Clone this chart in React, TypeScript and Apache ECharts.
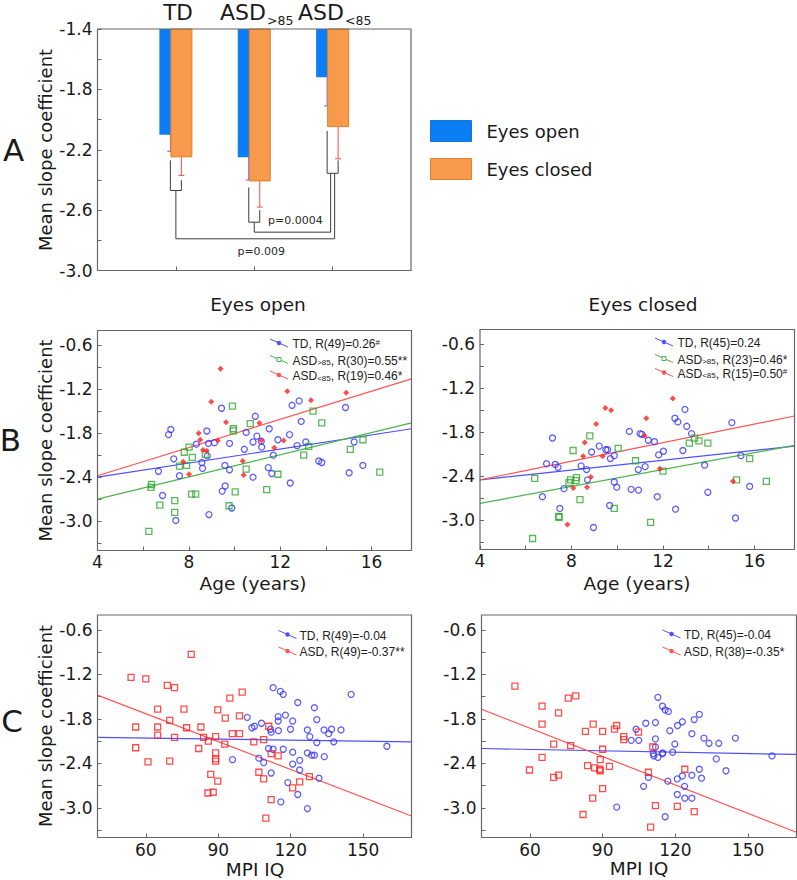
import React, { useEffect, useRef } from "react";
import * as echarts from "echarts";

const FONT = '"DejaVu Sans", Verdana, sans-serif';
const LEG_FONT = '"Liberation Sans", Arial, sans-serif';

// ---------- Panel A data ----------
const groups = ["TD", "ASD>85", "ASD<85"];
const openMean = [-2.1, -2.25, -1.72];
const openLow = [-2.21, -2.4, -1.91];
const openHigh = [-1.99, -2.095, -1.53];
const closedMean = [-2.25, -2.41, -2.05];
const closedLow = [-2.37, -2.58, -2.26];
const closedHigh = [-2.13, -2.24, -1.85];
const bracketLeftTop = [-2.27, -2.45, -2.075];
const bracketRightTop = [-2.4, -2.6, -2.27];
const bracketBottom = [-2.47, -2.68, -2.356];
const p009Level = -2.79;
const p0004Level = -2.746;
const aTicks = [-3.0, -2.8, -2.6, -2.4, -2.2, -2.0, -1.8, -1.6, -1.4];
const aLabels = [-3.0, -2.6, -2.2, -1.8, -1.4];

// ---------- Panels B / C axes ----------
const yTicks = [-3.3, -3.0, -2.7, -2.4, -2.1, -1.8, -1.5, -1.2, -0.9, -0.6];
const yLabels = [-3.0, -2.4, -1.8, -1.2, -0.6];
const ageTicks = [4, 6, 8, 10, 12, 14, 16];
const ageLabels = [4, 8, 12, 16];
const iqTicks = [60, 90, 120, 150];

// ---------- Panel B, eyes open ----------
const bOpenTD: number[][] = [
  [9.43, -1.46], [10.91, -1.57], [7.21, -1.75], [7.11, -1.82], [8.79, -1.77], [10.51, -1.79],
  [10.98, -1.84], [8.33, -1.95], [8.86, -1.94], [9.12, -1.93], [9.78, -1.94], [10.81, -1.92],
  [10.43, -2.02], [11.19, -1.99], [11.17, -1.91], [8.81, -2.11], [8.57, -2.2], [8.6, -2.28],
  [7.34, -2.15], [6.67, -2.32], [7.59, -2.38], [9.58, -2.24], [9.78, -2.3], [10.81, -2.4],
  [9.59, -2.52], [9.46, -2.59], [6.85, -2.65], [9.88, -2.82], [8.88, -2.91], [7.43, -2.99],
  [12.52, -1.42], [12.83, -1.36], [14.86, -1.45], [12.92, -1.64], [11.52, -1.74], [11.9, -1.89],
  [12.41, -1.82], [12.74, -1.97], [13.12, -1.92], [11.7, -2.1], [11.48, -2.27], [11.63, -2.35],
  [12.44, -2.48], [13.69, -2.18], [13.82, -2.2], [15.24, -1.92], [15.62, -2.24], [15.02, -2.34],
];
const bOpenHigh: number[][] = [
  [9.91, -1.43], [10.69, -1.67], [9.95, -1.74], [9.95, -1.77], [8.01, -1.99], [7.8, -2.06],
  [8.15, -2.13], [8.72, -2.09], [7.59, -2.25], [7.9, -2.24], [10.51, -2.29], [6.37, -2.5],
  [6.34, -2.54], [10.03, -2.6], [8.12, -2.63], [8.3, -2.63], [6.73, -2.78], [7.38, -2.72],
  [7.38, -2.88], [9.76, -2.79], [6.25, -3.14], [13.44, -1.5], [13.82, -1.66], [13.25, -1.98],
  [13.03, -2.1], [15.62, -1.89], [15.07, -2.02], [11.9, -2.36], [11.41, -2.57], [16.36, -2.33],
];
const bOpenLow: number[][] = [
  [9.39, -0.92], [8.98, -1.37], [9.63, -1.65], [8.43, -1.8], [8.5, -1.89], [9.27, -1.9],
  [8.62, -2.03], [8.78, -2.04], [7.75, -2.19], [8.01, -2.36], [10.36, -2.18], [10.4, -2.37],
  [11.09, -1.66], [11.17, -1.9], [11.74, -2.0], [12.15, -1.9], [12.31, -1.23], [13.35, -1.35],
  [14.89, -1.25],
];
const bOpenFitTD = [[4, -2.4], [17.75, -1.74]];
const bOpenFitHigh = [[4, -2.7], [17.75, -1.66]];
const bOpenFitLow = [[4, -2.38], [17.75, -1.06]];

// ---------- Panel B, eyes closed ----------
const bClosedTD: number[][] = [
  [10.53, -1.79], [11.0, -1.82], [11.08, -1.83], [11.36, -1.91], [7.17, -1.88], [9.21, -1.99],
  [9.5, -2.04], [9.58, -2.04], [8.88, -2.07], [9.87, -2.12], [9.7, -2.16], [6.91, -2.23],
  [7.29, -2.24], [7.41, -2.28], [8.42, -2.26], [8.66, -2.31], [10.92, -2.31], [11.22, -2.27],
  [8.7, -2.45], [9.87, -2.48], [9.98, -2.55], [7.67, -2.57], [10.61, -2.58], [10.93, -2.59],
  [6.73, -2.68], [7.49, -2.84], [9.67, -2.8], [8.96, -3.1], [12.96, -1.49], [12.52, -1.61],
  [12.65, -1.66], [13.04, -1.72], [13.25, -1.82], [15.01, -1.67], [11.63, -1.93], [12.87, -2.05],
  [12.02, -2.06], [11.81, -2.11], [13.82, -2.25], [15.41, -2.12], [11.75, -2.68], [13.96, -2.62],
  [15.79, -2.54], [12.55, -2.85], [15.17, -2.97],
];
const bClosedHigh: number[][] = [
  [8.8, -1.85], [8.07, -2.05], [10.04, -2.02], [10.8, -2.19], [6.39, -2.43], [7.96, -2.45],
  [8.22, -2.42], [8.19, -2.46], [7.89, -2.49], [8.37, -2.72], [7.45, -2.95], [7.45, -2.96],
  [9.87, -2.84], [6.3, -3.25], [11.46, -3.03], [13.15, -1.95], [13.38, -1.88], [13.57, -1.92],
  [13.96, -1.95], [15.79, -2.16], [12.0, -2.33], [15.22, -2.45], [16.52, -2.47],
];
const bClosedLow: number[][] = [
  [9.48, -1.47], [9.73, -1.5], [11.27, -1.61], [9.08, -1.69], [11.19, -1.85], [8.58, -1.94],
  [8.51, -2.13], [9.36, -2.13], [8.85, -2.41], [8.68, -2.55], [8.08, -2.56], [7.82, -3.06],
  [12.43, -1.34], [11.86, -2.3], [15.06, -2.47],
];
const bClosedFitTD = [[4, -2.45], [17.75, -1.99]];
const bClosedFitHigh = [[4, -2.77], [17.75, -1.98]];
const bClosedFitLow = [[4, -2.45], [17.75, -1.58]];

// ---------- Panel C, eyes open ----------
const cOpenTD: number[][] = [
  [112.7, -1.38], [115.7, -1.43], [116.9, -1.47], [145.0, -1.47], [122.9, -1.58], [129.8, -1.65],
  [102.0, -1.78], [114.8, -1.77], [117.8, -1.75], [130.8, -1.81], [107.9, -1.86], [114.8, -1.83],
  [120.8, -1.83], [105.0, -1.9], [103.9, -1.92], [111.6, -1.94], [111.9, -1.98], [114.9, -1.96],
  [119.9, -1.94], [126.9, -1.95], [127.9, -2.04], [133.8, -1.95], [136.9, -1.94], [135.7, -2.0],
  [140.8, -1.95], [130.8, -2.12], [137.8, -2.11], [159.8, -2.17], [110.8, -2.2], [112.7, -2.21],
  [116.9, -2.21], [120.8, -2.25], [126.9, -2.26], [128.7, -2.29], [129.8, -2.29], [133.9, -2.31],
  [95.9, -2.35], [106.8, -2.33], [108.8, -2.39], [123.7, -2.36], [120.8, -2.41], [123.7, -2.49],
  [111.9, -2.53], [131.7, -2.6], [118.8, -2.66], [122.9, -2.82], [115.9, -2.92], [126.9, -3.01],
];
const cOpenASD: number[][] = [
  [78.8, -0.93], [53.9, -1.24], [60.0, -1.26], [68.9, -1.35], [71.9, -1.38], [99.9, -1.44],
  [94.8, -1.52], [64.9, -1.67], [75.8, -1.67], [89.8, -1.68], [69.9, -1.82], [92.9, -1.79],
  [98.8, -1.76], [55.8, -1.91], [64.9, -1.91], [76.9, -1.92], [82.8, -1.91], [64.9, -2.02],
  [71.9, -2.05], [83.9, -2.05], [85.9, -2.1], [88.9, -2.04], [95.8, -2.0], [98.8, -2.0],
  [92.7, -2.14], [110.9, -1.9], [108.8, -2.08], [104.7, -2.11], [55.8, -2.19], [81.9, -2.2],
  [88.9, -2.26], [88.9, -2.34], [88.9, -2.37], [60.9, -2.38], [69.9, -2.37], [111.9, -2.27],
  [114.8, -2.3], [106.8, -2.52], [108.8, -2.61], [86.9, -2.55], [89.8, -2.64], [85.7, -2.8],
  [87.9, -2.79], [127.7, -2.58], [123.7, -2.65], [120.8, -2.73], [111.9, -2.89], [109.7, -3.14],
];
const cOpenFitTD = [[40, -2.05], [170, -2.11]];
const cOpenFitASD = [[40, -1.48], [170, -3.11]];

// ---------- Panel C, eyes closed ----------
const cClosedTD: number[][] = [
  [112.8, -1.51], [114.7, -1.63], [115.8, -1.68], [117.1, -1.7], [129.9, -1.74], [127.8, -1.81],
  [122.9, -1.84], [120.9, -1.89], [111.8, -1.85], [107.8, -1.86], [103.8, -1.94], [117.7, -1.96],
  [126.8, -2.0], [131.8, -2.06], [133.9, -2.13], [137.9, -2.13], [144.8, -2.06], [101.8, -2.09],
  [104.9, -2.09], [111.8, -2.07], [119.8, -2.14], [111.8, -2.18], [110.9, -2.27], [111.1, -2.3],
  [112.8, -2.32], [114.8, -2.26], [114.7, -2.27], [118.9, -2.25], [136.9, -2.34], [159.9, -2.3],
  [129.9, -2.48], [140.9, -2.5], [126.8, -2.56], [130.8, -2.6], [122.9, -2.57], [120.8, -2.61],
  [108.9, -2.59], [116.9, -2.64], [123.8, -2.71], [106.9, -2.71], [120.8, -2.82], [123.9, -2.87],
  [126.8, -2.87], [95.8, -2.99], [115.8, -3.12],
];
const cClosedASD: number[][] = [
  [53.8, -1.36], [65.0, -1.63], [71.8, -1.72], [75.8, -1.52], [78.9, -1.49], [65.0, -1.87],
  [82.9, -1.97], [86.1, -1.87], [90.0, -1.97], [94.9, -1.94], [95.8, -1.89], [98.7, -2.04],
  [98.7, -2.08], [104.8, -1.98], [69.8, -2.14], [76.8, -2.16], [90.0, -2.21], [110.7, -2.18],
  [65.0, -2.32], [89.0, -2.35], [83.8, -2.43], [86.7, -2.46], [88.8, -2.48], [89.0, -2.5],
  [92.8, -2.44], [59.8, -2.49], [69.8, -2.59], [71.8, -2.56], [108.9, -2.52], [123.9, -2.48],
  [90.0, -2.74], [85.9, -2.87], [81.9, -3.09], [111.8, -2.97], [120.8, -2.98], [127.8, -3.05],
  [109.8, -3.26],
];
const cClosedFitTD = [[40, -2.2], [170, -2.28]];
const cClosedFitASD = [[40, -1.67], [170, -3.33]];

// ---------- styling / layout ----------
const BAR_BLUE = "#0b7ef5";
const BAR_ORANGE = "#f79a4b";
const ORANGE_EDGE = "#e27f2c";
const ERR_BLUE = "#5a5aff";
const ERR_RED = "#ff4a4a";
const PT_BLUE = "#3434ff";
const PT_GREEN = "#2fa82f";
const PT_RED = "#ff1f1f";
const LN_BLUE = "#4f4fff";
const LN_GREEN = "#4cb34c";
const LN_RED = "#ff5252";
const FRAME = "#666666";
const TXT = "#1a1a1a";

const BAR_W = 22;
const HALF_OFF = BAR_W / 4;

const G = {
  a: { left: 97.5, top: 29, width: 313.5, height: 241.5 },
  bl: { left: 97.5, top: 330.5, width: 314, height: 220 },
  br: { left: 480, top: 329.5, width: 314.5, height: 220 },
  cl: { left: 97.5, top: 615, width: 314, height: 222.5 },
  cr: { left: 481.5, top: 615, width: 315, height: 222.5 },
};

const tickStyle = { show: true, inside: true, length: 4, lineStyle: { color: FRAME, width: 1 } };
const labelStyle = { fontSize: 17, fontFamily: FONT, color: TXT };

function yAxisBC(gridIndex: number) {
  return {
    type: "value", gridIndex, min: -3.4, max: -0.4,
    axisLine: { show: false }, splitLine: { show: false },
    axisTick: { ...tickStyle, customValues: yTicks },
    axisLabel: { ...labelStyle, margin: 5, customValues: yLabels, formatter: (v: number) => v.toFixed(1) },
  };
}
function xAxisAge(gridIndex: number) {
  return {
    type: "value", gridIndex, min: 4, max: 17.75,
    axisLine: { show: false }, splitLine: { show: false },
    axisTick: { ...tickStyle, customValues: ageTicks },
    axisLabel: { ...labelStyle, margin: 3, customValues: ageLabels },
  };
}
function xAxisIQ(gridIndex: number) {
  return {
    type: "value", gridIndex, min: 40, max: 170,
    axisLine: { show: false }, splitLine: { show: false },
    axisTick: { ...tickStyle, customValues: iqTicks },
    axisLabel: { ...labelStyle, margin: 4, customValues: iqTicks },
  };
}

function hollow(idx: number, data: number[][], symbol: string, color: string) {
  return {
    type: "scatter", xAxisIndex: idx, yAxisIndex: idx, data, symbol, symbolSize: 6, z: 4,
    itemStyle: { color: "rgba(0,0,0,0)", borderColor: color, borderWidth: 1.3 }, silent: true,
  };
}
function filled(idx: number, data: number[][], color: string) {
  return {
    type: "scatter", xAxisIndex: idx, yAxisIndex: idx, data, symbol: "diamond", symbolSize: 6, z: 4,
    itemStyle: { color }, silent: true,
  };
}
function fit(idx: number, data: number[][], color: string) {
  return {
    type: "line", xAxisIndex: idx, yAxisIndex: idx, data, symbol: "none", z: 3, silent: true,
    lineStyle: { color, width: 1.2 },
  };
}

function errorSeries(low: number[], high: number[], dx: number, color: string) {
  return {
    type: "custom", xAxisIndex: 0, yAxisIndex: 0, silent: true,
    data: low.map((l, i) => [i + 1, l, high[i]]),
    renderItem: (_p: any, api: any) => {
      const c = api.value(0);
      const lo = api.coord([c, api.value(1)]);
      const hi = api.coord([c, api.value(2)]);
      const x = lo[0] + dx;
      const cw = 3;
      const st = { stroke: color, lineWidth: 1 };
      return {
        type: "group",
        children: [
          { type: "line", shape: { x1: x, y1: hi[1], x2: x, y2: lo[1] }, style: st },
          { type: "line", shape: { x1: x - cw, y1: hi[1], x2: x + cw, y2: hi[1] }, style: st },
          { type: "line", shape: { x1: x - cw, y1: lo[1], x2: x + cw, y2: lo[1] }, style: st },
        ],
      };
    },
  };
}

const bracketSeries = {
  type: "custom", xAxisIndex: 0, yAxisIndex: 0, silent: true, z: 6,
  data: [[2, -2.5]],
  renderItem: (_p: any, api: any) => {
    const P = (cat: number, dx: number, v: number) => {
      const c = api.coord([cat, v]);
      return [c[0] + dx, c[1]];
    };
    const st = { stroke: "#3c3c3c", lineWidth: 1, fill: "none" };
    const kids: any[] = [];
    for (let i = 0; i < 3; i++) {
      const cat = i + 1;
      kids.push({
        type: "polyline",
        shape: { points: [P(cat, -HALF_OFF, bracketLeftTop[i]), P(cat, -HALF_OFF, bracketBottom[i]), P(cat, HALF_OFF, bracketBottom[i]), P(cat, HALF_OFF, bracketRightTop[i])] },
        style: st,
      });
    }
    kids.push({ type: "polyline", shape: { points: [P(1, 0, bracketBottom[0]), P(1, 0, p009Level), P(3, 2, p009Level), P(3, 2, bracketBottom[2])] }, style: st });
    kids.push({ type: "polyline", shape: { points: [P(2, 0, bracketBottom[1]), P(2, 0, p0004Level), P(3, -2, p0004Level), P(3, -2, bracketBottom[2])] }, style: st });
    const a1 = P(2, 0, p0004Level), a2 = P(3, -2, p0004Level);
    const b1 = P(1, 0, p009Level), b2 = P(3, 2, p009Level);
    kids.push({ type: "text", x: (a1[0] + a2[0]) / 2 + 3, y: a1[1] - 11.5, style: { text: "p=0.0004", fontSize: 11, fontFamily: FONT, fill: "#2a2a2a", align: "center", verticalAlign: "middle" } });
    kids.push({ type: "text", x: (b1[0] + b2[0]) / 2 + 6, y: b1[1] + 12.5, style: { text: "p=0.009", fontSize: 11, fontFamily: FONT, fill: "#2a2a2a", align: "center", verticalAlign: "middle" } });
    return { type: "group", children: kids };
  },
};

const legRich = {
  n: { fontSize: 12, fontFamily: LEG_FONT, fill: "#222" },
  s: { fontSize: 8, fontFamily: LEG_FONT, fill: "#222", verticalAlign: "bottom" },
  p: { fontSize: 8, fontFamily: LEG_FONT, fill: "#222", verticalAlign: "top" },
};

function scatterLegend(x0: number, textX: number, rows: { y: number; color: string; marker: string; text: string }[]) {
  const els: any[] = [];
  rows.forEach((r) => {
    els.push({ type: "line", z: 20, shape: { x1: x0, y1: r.y - 4, x2: x0 + 18, y2: r.y + 4 }, style: { stroke: r.color, lineWidth: 1 } });
    if (r.marker === "square") {
      els.push({ type: "rect", z: 21, shape: { x: x0 + 7, y: r.y - 2, width: 4, height: 4 }, style: { fill: "#fff", stroke: r.color, lineWidth: 1 } });
    } else {
      els.push({ type: "circle", z: 21, shape: { cx: x0 + 9, cy: r.y, r: 2.2 }, style: { fill: r.color } });
    }
    els.push({ type: "text", z: 21, x: textX, y: r.y + 1, style: { text: r.text, rich: legRich, fontSize: 12, fontFamily: LEG_FONT, fill: "#222", verticalAlign: "middle" } });
  });
  return els;
}

function frame(g: { left: number; top: number; width: number; height: number }) {
  return { type: "rect", z: 30, shape: { x: g.left, y: g.top, width: g.width, height: g.height }, style: { fill: "none", stroke: FRAME, lineWidth: 1.2 } };
}

function txt(x: number, y: number, text: string, size: number, extra: any = {}) {
  return { type: "text", x, y, z: 25, ...extra, style: { text, fontSize: size, fontFamily: FONT, fill: TXT, align: "center", verticalAlign: "middle", ...(extra.style || {}) } };
}

export default function App() {
  const ref = useRef<HTMLDivElement>(null);
  useEffect(() => {
    if (!ref.current) return;
    const chart = echarts.init(ref.current, null, { renderer: "svg" });
    const graphics: any[] = [
      frame(G.a), frame(G.bl), frame(G.br), frame(G.cl), frame(G.cr),
      txt(13.5, 150, "A", 31), txt(10.5, 440, "B", 31), txt(12, 721, "C", 31),
      txt(45, 150, "Mean slope coefficient", 18, { rotation: Math.PI / 2 }),
      txt(45, 440.5, "Mean slope coefficient", 18, { rotation: Math.PI / 2 }),
      txt(45, 726, "Mean slope coefficient", 18, { rotation: Math.PI / 2 }),
      txt(258, 304, "Eyes open", 18.5), txt(643, 304, "Eyes closed", 18.5),
      txt(253, 583, "Age (years)", 18.5), txt(637, 583, "Age (years)", 18.5),
      txt(255, 869, "MPI IQ", 18.5), txt(639, 868, "MPI IQ", 18.5),
      txt(178, 12.5, groups[0], 21.5),
      txt(220, 12.5, "ASD", 22, { style: { align: "left" } }),
      txt(267, 20, ">85", 12.5, { style: { align: "left" } }),
      txt(298, 12.5, "ASD", 22, { style: { align: "left" } }),
      txt(345, 20, "<85", 12.5, { style: { align: "left" } }),
      { type: "rect", shape: { x: 430.5, y: 120.5, width: 41, height: 21 }, style: { fill: BAR_BLUE, stroke: "#1a72dd", lineWidth: 1 } },
      { type: "rect", shape: { x: 430.5, y: 158.5, width: 41, height: 21 }, style: { fill: BAR_ORANGE, stroke: ORANGE_EDGE, lineWidth: 1 } },
      txt(486.5, 131, "Eyes open", 18, { style: { align: "left" } }),
      txt(486.5, 169, "Eyes closed", 18, { style: { align: "left" } }),
      ...scatterLegend(270, 292.5, [
        { y: 343, color: LN_BLUE, marker: "dot", text: "{n|TD, R(49)=0.26}{p|#}" },
        { y: 359.5, color: LN_GREEN, marker: "square", text: "{n|ASD}{s|>85}{n|, R(30)=0.55**}" },
        { y: 375, color: LN_RED, marker: "dot", text: "{n|ASD}{s|<85}{n|, R(19)=0.46*}" },
      ]),
      ...scatterLegend(655, 677.5, [
        { y: 342, color: LN_BLUE, marker: "dot", text: "{n|TD, R(45)=0.24}" },
        { y: 358.5, color: LN_GREEN, marker: "square", text: "{n|ASD}{s|>85}{n|, R(23)=0.46*}" },
        { y: 372.5, color: LN_RED, marker: "dot", text: "{n|ASD}{s|<85}{n|, R(15)=0.50}{p|#}" },
      ]),
      ...scatterLegend(278.5, 299.5, [
        { y: 634.5, color: LN_BLUE, marker: "dot", text: "{n|TD, R(49)=-0.04}" },
        { y: 651, color: LN_RED, marker: "dot", text: "{n|ASD, R(49)=-0.37**}" },
      ]),
      ...scatterLegend(662.5, 684, [
        { y: 634, color: LN_BLUE, marker: "dot", text: "{n|TD, R(45)=-0.04}" },
        { y: 651, color: LN_RED, marker: "dot", text: "{n|ASD, R(38)=-0.35*}" },
      ]),
    ];

    const option: any = {
      animation: false,
      backgroundColor: "#ffffff",
      textStyle: { fontFamily: FONT },
      grid: [G.a, G.bl, G.br, G.cl, G.cr].map((g) => ({ ...g, containLabel: false })),
      xAxis: [
        {
          type: "category", gridIndex: 0, data: ["", ...groups, ""], boundaryGap: false,
          axisLine: { show: false }, axisLabel: { show: false }, splitLine: { show: false },
          axisTick: { ...tickStyle, interval: (i: number) => i >= 1 && i <= 3 },
        },
        xAxisAge(1), xAxisAge(2), xAxisIQ(3), xAxisIQ(4),
      ],
      yAxis: [
        {
          type: "value", gridIndex: 0, min: -3.0, max: -1.4,
          axisLine: { show: false }, splitLine: { show: false },
          axisTick: { ...tickStyle, customValues: aTicks },
          axisLabel: { ...labelStyle, margin: 5, customValues: aLabels, formatter: (v: number) => v.toFixed(1) },
        },
        yAxisBC(1), yAxisBC(2), yAxisBC(3), yAxisBC(4),
      ],
      series: [
        {
          type: "bar", name: "Eyes open", xAxisIndex: 0, yAxisIndex: 0, clip: true,
          data: ["-", ...openMean, "-"], barWidth: BAR_W, barGap: "-50%",
          itemStyle: { color: BAR_BLUE }, silent: true,
        },
        errorSeries(openLow, openHigh, -HALF_OFF, ERR_BLUE),
        {
          type: "bar", name: "Eyes closed", xAxisIndex: 0, yAxisIndex: 0, clip: true,
          data: ["-", ...closedMean, "-"], barWidth: BAR_W, barGap: "-50%",
          itemStyle: { color: BAR_ORANGE, borderColor: ORANGE_EDGE, borderWidth: 1 }, silent: true,
        },
        errorSeries(closedLow, closedHigh, HALF_OFF, ERR_RED),
        bracketSeries,
        fit(1, bOpenFitTD, LN_BLUE), fit(1, bOpenFitHigh, LN_GREEN), fit(1, bOpenFitLow, LN_RED),
        hollow(1, bOpenTD, "circle", PT_BLUE), hollow(1, bOpenHigh, "rect", PT_GREEN), filled(1, bOpenLow, PT_RED),
        fit(2, bClosedFitTD, LN_BLUE), fit(2, bClosedFitHigh, LN_GREEN), fit(2, bClosedFitLow, LN_RED),
        hollow(2, bClosedTD, "circle", PT_BLUE), hollow(2, bClosedHigh, "rect", PT_GREEN), filled(2, bClosedLow, PT_RED),
        fit(3, cOpenFitTD, LN_BLUE), fit(3, cOpenFitASD, LN_RED),
        hollow(3, cOpenTD, "circle", PT_BLUE), hollow(3, cOpenASD, "rect", PT_RED),
        fit(4, cClosedFitTD, LN_BLUE), fit(4, cClosedFitASD, LN_RED),
        hollow(4, cClosedTD, "circle", PT_BLUE), hollow(4, cClosedASD, "rect", PT_RED),
      ],
      graphic: { elements: graphics },
    };
    chart.setOption(option);
    return () => chart.dispose();
  }, []);
  return <div ref={ref} style={{ position: "fixed", left: 0, top: 0, width: 797, height: 880, background: "#fff" }} />;
}
